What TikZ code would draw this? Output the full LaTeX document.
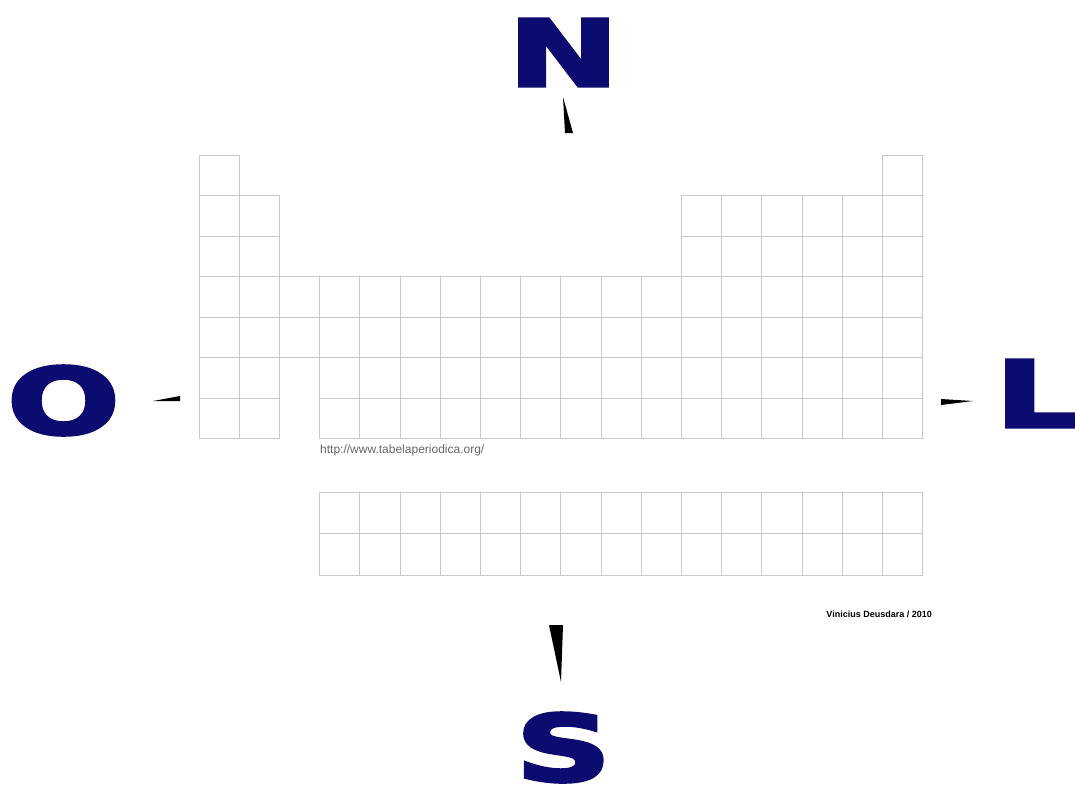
\documentclass[tikz,border=0pt]{standalone}
\usepackage{fontspec}
\usepackage{xcolor}
\usepackage{tikz}
\setmainfont{DejaVu Sans}
\newfontfamily\textofino{Liberation Sans}
\definecolor{azulrosa}{RGB}{12,12,112}
\definecolor{linhacela}{RGB}{200,200,200}
\newcommand{\letra}[1]{\scalebox{1.44}[1]{\fontsize{92}{92}\selectfont\bfseries
    \special{pdf:literal direct 2 Tr 3 w}#1\special{pdf:literal direct 0 Tr 1 w}}}

\begin{document}
\begin{tikzpicture}[x=1pt, y=-1pt,
    cela/.style={draw=linhacela, line width=0.9pt},
    ponto/.style={azulrosa, inner sep=0pt},
    seta/.style={fill=black}]
    \useasboundingbox[fill=white] (0,0) rectangle (1075,784);
    % tabela principal
    \foreach \c in {1,18}
        \draw[cela] ({199+(\c-1)*40.2},155) rectangle ++(40.2,40.5);
    \foreach \r in {2,3}
        \foreach \c in {1,2,13,14,15,16,17,18}
            \draw[cela] ({199+(\c-1)*40.2},{155+(\r-1)*40.5}) rectangle ++(40.2,40.5);
    \foreach \r in {4,5}
        \foreach \c in {1,...,18}
            \draw[cela] ({199+(\c-1)*40.2},{155+(\r-1)*40.5}) rectangle ++(40.2,40.5);
    \foreach \r in {6,7}
        \foreach \c in {1,2,4,5,...,18}
            \draw[cela] ({199+(\c-1)*40.2},{155+(\r-1)*40.5}) rectangle ++(40.2,40.5);
    % lantanideos e actinideos
    \foreach \r in {1,2}
        \foreach \c in {4,...,18}
            \draw[cela] ({199+(\c-1)*40.2},{492+(\r-1)*41.5}) rectangle ++(40.2,41.5);
    \node[anchor=base west, inner sep=0pt, text=black!60, font=\textofino\fontsize{12}{13}\selectfont]
        (site) at (320,453) {http://www.tabelaperiodica.org/};
    \node[anchor=base east, inner sep=0pt, font=\textofino\bfseries\fontsize{9}{10}\selectfont]
        (autor) at (932,617) {Vinicius Deusdara / 2010};
    % rosa dos ventos
    \node[ponto, anchor=base] (norte) at (563.5,86) {\letra{N}};
    \node[ponto, anchor=base] (sul) at (563.5,781) {\letra{S}};
    \node[ponto, anchor=base] (oeste) at (63.5,434) {\letra{O}};
    \node[ponto, anchor=base west] (leste) at (995,427) {\letra{L}};
    \fill[seta] (563,97) -- (565,133) -- (573,133) -- cycle;
    \fill[seta] (549,625) -- (563,625) -- (561,682) -- cycle;
    \fill[seta] (153,401) -- (180,396) -- (180,401) -- cycle;
    \fill[seta] (941,399) -- (941,405) -- (973,401) -- cycle;
\end{tikzpicture}
\end{document}
